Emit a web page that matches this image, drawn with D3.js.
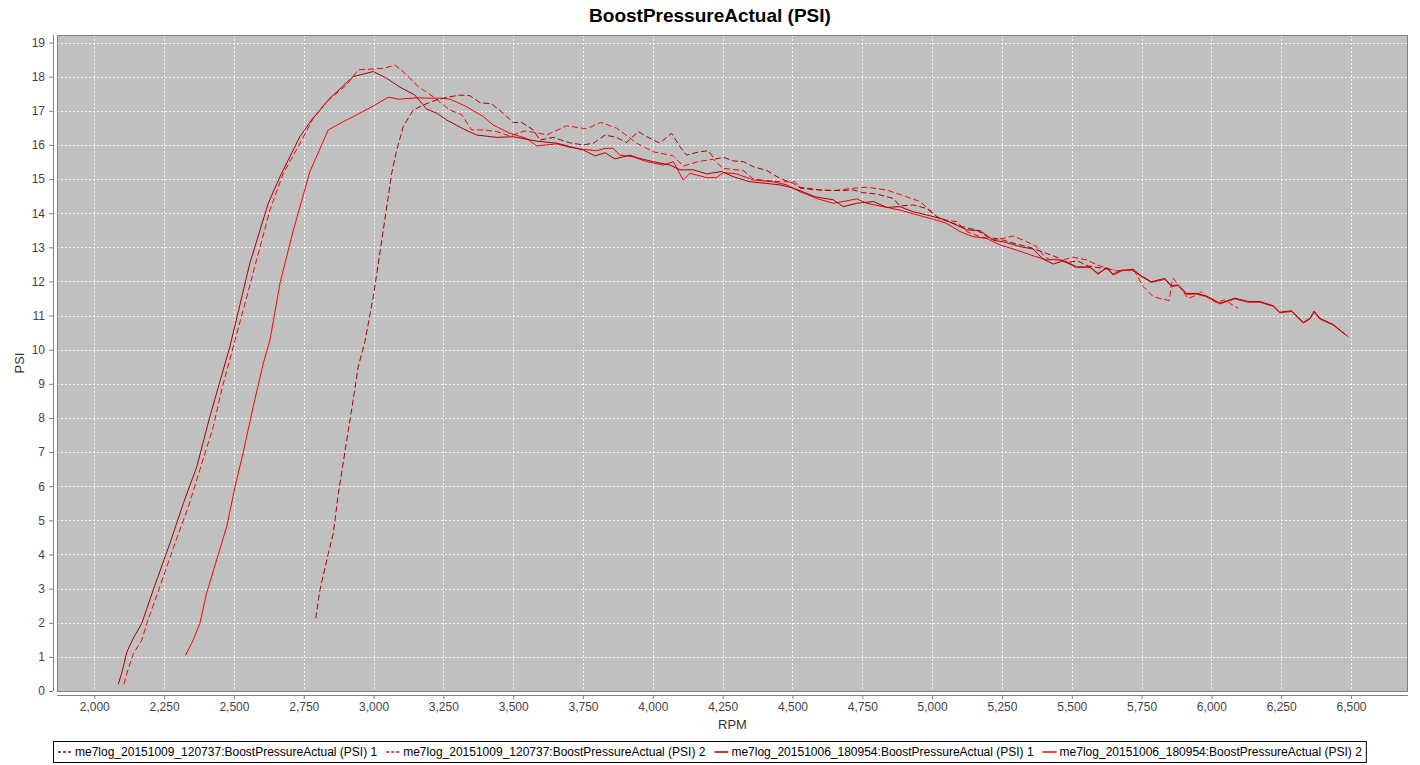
<!DOCTYPE html>
<html>
<head>
<meta charset="utf-8">
<script src="https://cdn.jsdelivr.net/npm/d3@7"></script>
<style>
  body { margin: 0; background: #fff; }
  svg { display: block; font-family: "Liberation Sans", Arial, sans-serif; }
</style>
</head>
<body>
<div id="chart"></div>
<script>
// --- data: [rpm, psi] ---
const seriesNames = [
  "me7log_20151009_120737:BoostPressureActual (PSI) 1",
  "me7log_20151009_120737:BoostPressureActual (PSI) 2",
  "me7log_20151006_180954:BoostPressureActual (PSI) 1",
  "me7log_20151006_180954:BoostPressureActual (PSI) 2"
];

const log1Run1 = [[2793,2.13],[2808,2.96],[2838,4.03],[2856,4.62],[2874,5.79],[2904,7.35],[2927,8.53],[2945,9.5],[2969,10.23],[2999,11.55],[3035,13.51],[3065,15.17],[3083,15.85],[3106,16.53],[3142,17.02],[3178,17.17],[3226,17.32],[3274,17.41],[3309,17.46],[3345,17.44],[3381,17.24],[3423,17.2],[3464,16.93],[3500,16.65],[3530,16.66],[3572,16.44],[3596,16.14],[3643,16.22],[3703,16.06],[3751,16.0],[3787,16.05],[3829,16.29],[3870,16.22],[3906,16.07],[3948,16.39],[3978,16.24],[4025,16.05],[4067,16.34],[4097,15.95],[4121,15.7],[4168,15.8],[4198,15.83],[4222,15.58],[4252,15.64],[4288,15.53],[4324,15.51],[4360,15.36],[4408,15.25],[4455,15.02],[4503,14.87],[4527,14.76],[4599,14.68],[4670,14.66],[4718,14.68],[4754,14.6],[4802,14.56],[4861,14.43],[4885,14.21],[4933,14.24],[4980,14.14],[5016,13.9],[5060,13.75],[5110,13.6],[5160,13.5],[5200,13.3],[5260,13.2],[5300,13.1],[5350,13.0],[5400,12.85],[5450,12.7],[5480,12.55],[5520,12.6],[5560,12.45],[5600,12.4],[5650,12.35]];

const log1Run2 = [[2106,0.2],[2122,0.66],[2140,1.1],[2170,1.49],[2188,1.98],[2235,3.06],[2289,4.33],[2337,5.4],[2378,6.48],[2426,7.74],[2456,8.82],[2498,10.1],[2546,11.55],[2581,12.63],[2629,14.09],[2677,15.17],[2743,16.14],[2784,16.78],[2832,17.27],[2904,17.76],[2945,18.2],[3035,18.24],[3077,18.34],[3112,18.1],[3160,17.71],[3214,17.41],[3250,17.17],[3274,17.02],[3316,16.88],[3351,16.44],[3393,16.44],[3441,16.39],[3488,16.26],[3542,16.41],[3596,16.34],[3620,16.29],[3691,16.56],[3763,16.47],[3813,16.66],[3870,16.49],[3912,16.24],[3942,16.05],[4001,15.8],[4073,15.68],[4109,15.38],[4162,15.51],[4216,15.58],[4252,15.31],[4324,15.25],[4359,15.0],[4455,14.92],[4509,14.92],[4527,14.73],[4587,14.68],[4646,14.66],[4718,14.73],[4766,14.76],[4837,14.68],[4909,14.48],[4956,14.34],[4992,14.09],[5028,13.82],[5088,13.75],[5124,13.46],[5171,13.31],[5219,13.23],[5255,13.26],[5290,13.33],[5338,13.17],[5374,13.02],[5398,12.77],[5422,12.63],[5469,12.63],[5505,12.71],[5553,12.63],[5601,12.45],[5655,12.31],[5696,12.33],[5726,12.29],[5756,11.85],[5792,11.55],[5849,11.44],[5857,11.9],[5863,12.09],[5881,11.9],[5917,11.5],[5947,11.6],[5965,11.7],[5983,11.55],[6018,11.38],[6048,11.46],[6066,11.36],[6096,11.21]];

const log2Run1 = [[2086,0.2],[2098,0.52],[2117,1.15],[2140,1.55],[2170,1.98],[2211,2.96],[2271,4.33],[2319,5.5],[2367,6.57],[2414,8.04],[2486,10.1],[2557,12.53],[2623,14.29],[2665,15.07],[2736,16.24],[2778,16.73],[2844,17.37],[2927,18.0],[2999,18.15],[3047,17.95],[3095,17.69],[3148,17.46],[3190,17.05],[3226,16.93],[3262,16.73],[3321,16.47],[3369,16.29],[3441,16.22],[3500,16.24],[3584,16.11],[3656,16.05],[3751,15.85],[3793,15.68],[3829,15.77],[3864,15.59],[3918,15.7],[3954,15.6],[4001,15.51],[4061,15.41],[4097,15.27],[4145,15.27],[4193,15.15],[4246,15.22],[4288,15.07],[4347,14.92],[4408,14.87],[4455,14.83],[4491,14.76],[4527,14.66],[4581,14.48],[4646,14.39],[4682,14.19],[4730,14.29],[4790,14.34],[4837,14.17],[4885,14.19],[4933,14.04],[4980,13.95],[5040,13.82],[5088,13.65],[5124,13.51],[5171,13.49],[5219,13.21],[5266,13.14],[5314,13.02],[5362,12.95],[5398,12.65],[5434,12.51],[5469,12.6],[5517,12.41],[5565,12.43],[5594,12.21],[5625,12.41],[5648,12.19],[5678,12.31],[5720,12.36],[5744,12.19],[5785,11.99],[5833,12.09],[5857,11.87],[5881,11.9],[5911,11.65],[5947,11.65],[5983,11.57],[6031,11.36],[6084,11.51],[6132,11.41],[6174,11.41],[6221,11.29],[6245,11.1],[6287,11.14],[6329,10.8],[6353,10.92],[6368,11.13],[6388,10.92],[6436,10.74],[6490,10.38]];

const log2Run2 = [[2327,1.05],[2354,1.49],[2378,1.98],[2402,2.86],[2438,3.84],[2474,4.81],[2504,5.99],[2534,7.01],[2569,8.33],[2605,9.6],[2629,10.28],[2665,11.95],[2713,13.51],[2772,15.22],[2838,16.44],[2892,16.68],[2939,16.88],[2999,17.14],[3053,17.4],[3089,17.34],[3154,17.38],[3202,17.37],[3238,17.37],[3274,17.34],[3328,17.14],[3393,16.83],[3429,16.58],[3488,16.34],[3548,16.19],[3584,15.97],[3655,16.03],[3703,15.93],[3751,15.87],[3799,15.83],[3829,15.9],[3858,15.9],[3882,15.7],[3930,15.65],[3978,15.51],[4037,15.41],[4073,15.51],[4109,14.97],[4133,15.17],[4193,15.04],[4228,15.04],[4252,15.19],[4300,15.15],[4360,14.97],[4431,14.92],[4479,14.83],[4527,14.63],[4587,14.43],[4646,14.29],[4694,14.36],[4730,14.42],[4766,14.29],[4825,14.19],[4885,14.09],[4945,13.95],[5004,13.82],[5052,13.7],[5100,13.46],[5147,13.31],[5195,13.26],[5243,13.07],[5302,12.92],[5362,12.75],[5410,12.63],[5446,12.65],[5481,12.58],[5517,12.43],[5565,12.41],[5594,12.24],[5625,12.38],[5648,12.22],[5678,12.33],[5720,12.33],[5744,12.17],[5785,11.97],[5833,12.06],[5857,11.85],[5881,11.88],[5911,11.62],[5947,11.63],[5983,11.55],[6031,11.34],[6084,11.49],[6132,11.39],[6174,11.39],[6221,11.27],[6245,11.08],[6287,11.12],[6329,10.78],[6353,10.9],[6368,11.1],[6388,10.9],[6436,10.72],[6478,10.45]];

const xTicks = d3.range(2000, 6501, 250);
const yTicks = d3.range(0, 20, 1);

// styles per series (legend order)
const seriesColors = ["#a80000", "#ff0000", "#a80000", "#ff0000"];
const seriesDashed = [true, true, false, false];
const seriesData = [log1Run1, log1Run2, log2Run1, log2Run2];

const W = 1420, H = 765;
const plot = { left: 57, top: 35, right: 1408, bottom: 691 };

const svg = d3.select("#chart").append("svg")
  .attr("width", W).attr("height", H);

// --- scales ---
const x = d3.scaleLinear().domain([1866.5, 6704]).range([plot.left, plot.right]);
const y = d3.scaleLinear().domain([0, 19.22]).range([plot.bottom, plot.top]);

// title
svg.append("text")
  .attr("x", W / 2).attr("y", 22)
  .attr("text-anchor", "middle")
  .style("font-size", "19px").style("font-weight", "bold")
  .attr("fill", "#000")
  .text("BoostPressureActual (PSI)");

// plot background
svg.append("rect")
  .attr("x", plot.left).attr("y", plot.top)
  .attr("width", plot.right - plot.left).attr("height", plot.bottom - plot.top)
  .attr("fill", "#c0c0c0");

// gridlines
const grid = svg.append("g").attr("stroke", "#ffffff").attr("stroke-width", 1)
  .attr("stroke-dasharray", "2,2").attr("opacity", 0.85);
grid.selectAll(".vg").data(xTicks).join("line")
  .attr("x1", d => Math.round(x(d)) + 0.5).attr("x2", d => Math.round(x(d)) + 0.5)
  .attr("y1", plot.top).attr("y2", plot.bottom);
grid.selectAll(".hg").data(yTicks).join("line")
  .attr("y1", d => Math.round(y(d)) + 0.5).attr("y2", d => Math.round(y(d)) + 0.5)
  .attr("x1", plot.left).attr("x2", plot.right);

// series lines (drawn in reverse so the first series ends up on top)
const line = d3.line().x(d => x(d[0])).y(d => y(d[1]));
svg.append("clipPath").attr("id", "plotclip").append("rect")
  .attr("x", plot.left).attr("y", plot.top)
  .attr("width", plot.right - plot.left).attr("height", plot.bottom - plot.top);
const lines = svg.append("g").attr("clip-path", "url(#plotclip)");
d3.range(seriesData.length).reverse().forEach(i => {
  lines.append("path")
    .attr("d", line(seriesData[i]))
    .attr("fill", "none")
    .attr("stroke", seriesColors[i])
    .attr("stroke-width", 1)
    .attr("stroke-dasharray", seriesDashed[i] ? "6,3" : null);
});

// plot outline
svg.append("rect")
  .attr("x", plot.left + 0.5).attr("y", plot.top + 0.5)
  .attr("width", plot.right - plot.left - 1).attr("height", plot.bottom - plot.top)
  .attr("fill", "none").attr("stroke", "#808080");

// --- axes ---
const fmt = d3.format(",");
const xAxis = svg.append("g")
  .attr("transform", `translate(0,${plot.bottom + 4})`)
  .call(d3.axisBottom(x).tickValues(xTicks).tickFormat(fmt).tickSize(4).tickPadding(3));
const yAxis = svg.append("g")
  .attr("transform", `translate(${plot.left - 4},0)`)
  .call(d3.axisLeft(y).tickValues(yTicks).tickFormat(d3.format("d")).tickSize(4).tickPadding(4));

[xAxis, yAxis].forEach(g => {
  g.select(".domain").attr("stroke", "#808080");
  g.selectAll(".tick line").attr("stroke", "#808080");
  g.selectAll(".tick text").attr("fill", "#444").style("font-size", "12px")
    .style("font-family", "'Liberation Sans', Arial, sans-serif");
});
xAxis.select(".domain").attr("d", `M${plot.left},0.5H${plot.right}`);
yAxis.select(".domain").attr("d", `M0.5,${plot.top}V${plot.bottom}`);

// axis titles
svg.append("text")
  .attr("x", (plot.left + plot.right) / 2).attr("y", 729)
  .attr("text-anchor", "middle").style("font-size", "13px").attr("fill", "#333")
  .text("RPM");
svg.append("text")
  .attr("transform", `translate(24,${(plot.top + plot.bottom) / 2}) rotate(-90)`)
  .attr("text-anchor", "middle").style("font-size", "13px").attr("fill", "#333")
  .text("PSI");

// --- legend ---
const legendBox = svg.append("rect")
  .attr("fill", "#fff").attr("stroke", "#000");
const legend = svg.append("g");
const sampleW = 14, sampleGap = 3, itemGap = 9;
let cx = 0;
seriesNames.forEach((name, i) => {
  const g = legend.append("g").attr("transform", `translate(${cx},0)`);
  g.append("line")
    .attr("x1", 0).attr("x2", sampleW).attr("y1", 0).attr("y2", 0)
    .attr("stroke", seriesColors[i]).attr("stroke-width", 1.5)
    .attr("stroke-dasharray", seriesDashed[i] ? "3,2" : null);
  const t = g.append("text")
    .attr("x", sampleW + sampleGap).attr("y", 0).attr("dy", "0.35em")
    .style("font-size", "12px").attr("fill", "#000")
    .text(name);
  cx += sampleW + sampleGap + t.node().getComputedTextLength() + itemGap;
});
const totalW = cx - itemGap;
const legX = Math.round(W / 2 - totalW / 2);
legend.attr("transform", `translate(${legX},752)`);
legendBox
  .attr("x", legX - 4.5).attr("y", 741.5)
  .attr("width", totalW + 9).attr("height", 21);
</script>
</body>
</html>
